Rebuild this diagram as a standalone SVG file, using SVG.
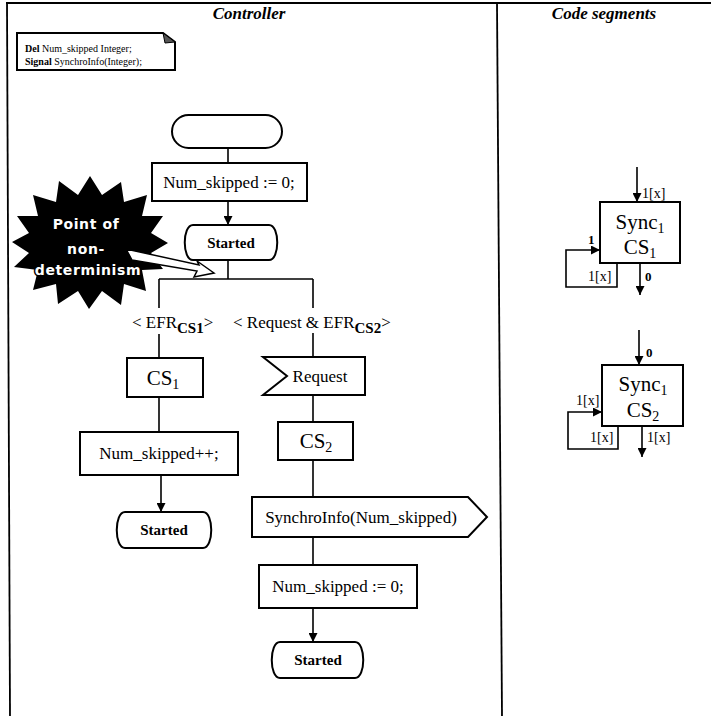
<svg xmlns="http://www.w3.org/2000/svg" width="711" height="716" viewBox="0 0 711 716">
  <style>
    .box { fill: #fff; stroke: #000; stroke-width: 2; }
    .ln { fill: none; stroke: #000; stroke-width: 1.6; }
    .frame { fill: none; stroke: #000; stroke-width: 1.8; }
    .t { font-family: "Liberation Serif", "Times New Roman", serif; fill: #000; }
    .mid { text-anchor: middle; }
    .hdr { font-size: 17px; font-weight: bold; font-style: italic; }
    .body { font-size: 17px; }
    .state { font-size: 15px; font-weight: bold; }
    .cs { font-size: 21px; }
    .sub { font-size: 14px; }
    .lbl { font-size: 14px; }
    .num { font-size: 13px; font-weight: bold; }
    .note { font-size: 10px; }
    .burst { font-family: "DejaVu Sans", "Liberation Sans", sans-serif; font-size: 14px; font-weight: bold; fill: #fff; stroke: #000; stroke-width: 3; paint-order: stroke; text-anchor: middle; letter-spacing: 0.6px; }
  </style>
  <defs>
    <marker id="ah" viewBox="0 0 10 10" refX="10" refY="5" markerWidth="9" markerHeight="9" markerUnits="userSpaceOnUse" orient="auto">
      <path d="M0,0 L10,5 L0,10 Z" fill="#000"/>
    </marker>
  </defs>

  <rect width="711" height="716" fill="#fff"/>

  <!-- table frame -->
  <g id="frame">
    <line class="frame" x1="6" y1="3" x2="711" y2="3"/>
    <line class="frame" x1="7" y1="3" x2="10" y2="716"/>
    <line class="frame" x1="497" y1="3" x2="502" y2="716"/>
    <text class="t hdr mid" x="249" y="19">Controller</text>
    <text class="t hdr mid" x="604" y="19">Code segments</text>
  </g>

  <!-- declarations -->
  <g id="decl">
    <path class="box" d="M17,33 H163 L175,42 V70 H17 Z" stroke-width="1.8"/>
    <path d="M163,33 L165,43 L175,42 Z" fill="#555" stroke="#000" stroke-width="1"/>
    <text class="t note" x="25" y="52"><tspan font-weight="bold">Del</tspan> Num_skipped Integer;</text>
    <text class="t note" x="25" y="65"><tspan font-weight="bold">Signal</tspan>  SynchroInfo(Integer);</text>
  </g>

  <!-- connectors -->
  <g id="connectors">
    <line class="ln" x1="228" y1="148" x2="228" y2="163"/>
    <line class="ln" x1="228" y1="201" x2="228" y2="225" marker-end="url(#ah)"/>
    <line class="ln" x1="228" y1="260" x2="228" y2="279"/>
    <line class="ln" x1="159" y1="279" x2="313" y2="279"/>
    <line class="ln" x1="159" y1="279" x2="159" y2="308"/>
    <line class="ln" x1="159" y1="334" x2="159" y2="358"/>
    <line class="ln" x1="159" y1="397" x2="159" y2="432"/>
    <line class="ln" x1="161" y1="475" x2="161" y2="512" marker-end="url(#ah)"/>
    <line class="ln" x1="313" y1="279" x2="313" y2="308"/>
    <line class="ln" x1="313" y1="333" x2="313" y2="357"/>
    <line class="ln" x1="313" y1="395" x2="313" y2="422"/>
    <line class="ln" x1="313" y1="460" x2="313" y2="497"/>
    <line class="ln" x1="313" y1="537" x2="313" y2="565"/>
    <line class="ln" x1="313" y1="608" x2="313" y2="642" marker-end="url(#ah)"/>
  </g>

  <!-- controller process -->
  <g id="start">
    <rect class="box" x="172" y="115" width="110" height="33" rx="16.5"/>
  </g>
  <g id="init">
    <rect class="box" x="152" y="163" width="155" height="38"/>
    <text class="t body mid" x="229" y="188">Num_skipped := 0;</text>
  </g>
  <g id="started1">
    <path class="box" d="M193,225 H269 C280,225 280,260 269,260 H193 C182,260 182,225 193,225 Z"/>
    <text class="t state mid" x="231" y="248">Started</text>
  </g>
  <g id="guard1">
    <text class="t body" x="132" y="328">&lt; EFR<tspan font-size="15" font-weight="bold" dy="5">CS1</tspan><tspan dy="-5">&gt;</tspan></text>
  </g>
  <g id="guard2">
    <text class="t body" x="233" y="328">&lt; Request &amp; EFR<tspan font-size="15" font-weight="bold" dy="5">CS2</tspan><tspan dy="-5">&gt;</tspan></text>
  </g>
  <g id="cs1">
    <rect class="box" x="127" y="358" width="76" height="39"/>
    <text class="t cs mid" x="163" y="385">CS<tspan class="sub" dy="4">1</tspan></text>
  </g>
  <g id="skip">
    <rect class="box" x="80" y="432" width="158" height="43"/>
    <text class="t body mid" x="159" y="459">Num_skipped++;</text>
  </g>
  <g id="started2">
    <path class="box" d="M125,512 H203 C214,512 214,548 203,548 H125 C114,548 114,512 125,512 Z"/>
    <text class="t state mid" x="164" y="535">Started</text>
  </g>
  <g id="request">
    <path class="box" d="M263,357 H365 V395 H263 L287,376 Z"/>
    <text class="t body mid" x="320" y="382">Request</text>
  </g>
  <g id="cs2">
    <rect class="box" x="278" y="422" width="75" height="38"/>
    <text class="t cs mid" x="316" y="448">CS<tspan class="sub" dy="4">2</tspan></text>
  </g>
  <g id="synchro">
    <path class="box" d="M252,497 H468 L487,517 L468,537 H252 Z"/>
    <text class="t body mid" x="361" y="523">SynchroInfo(Num_skipped)</text>
  </g>
  <g id="reset">
    <rect class="box" x="259" y="565" width="158" height="43"/>
    <text class="t body mid" x="338" y="592">Num_skipped := 0;</text>
  </g>
  <g id="started3">
    <path class="box" d="M280,642 H355 C366,642 366,678 355,678 H280 C269,678 269,642 280,642 Z"/>
    <text class="t state mid" x="318" y="665">Started</text>
  </g>

  <!-- callout -->
  <g id="callout">
    <polygon fill="#000" points="168,243 151,253 163,269 142,270 146,291 124,284 121,305 102,291 89,309 78,291 58,304 56,284 33,290 38,270 14,267 29,253 12,242 29,233 17,216 38,216 33,195 56,202 59,181 78,195 90,176 102,195 121,182 124,202 147,195 142,216 163,216 151,233"/>
    <polygon fill="#fff" stroke="#000" stroke-width="1.5" stroke-linejoin="miter" points="126,249 199,265 197,261 214,273 194,277 197,271 132,260"/>
    <text class="burst" x="86" y="229">Point of</text>
    <text class="burst" x="86" y="254">non-</text>
    <text class="burst" x="88" y="275">determinism</text>
  </g>

  <!-- code segment 1 -->
  <g id="sync-cs1">
    <rect class="box" x="600" y="202" width="80" height="61"/>
    <text class="t cs mid" x="640" y="229">Sync<tspan class="sub" dy="4">1</tspan></text>
    <text class="t cs mid" x="640" y="254">CS<tspan class="sub" dy="4">1</tspan></text>
    <line class="ln" x1="637" y1="167" x2="637" y2="202" marker-end="url(#ah)"/>
    <polyline class="ln" points="617,263 617,287 566,287 566,250 600,250" marker-end="url(#ah)"/>
    <line class="ln" x1="640" y1="263" x2="640" y2="295" marker-end="url(#ah)"/>
    <text class="t lbl" x="642" y="198">1[x]</text>
    <text class="t num" x="588" y="244">1</text>
    <text class="t lbl" x="588" y="281">1[x]</text>
    <text class="t num" x="645" y="281">0</text>
  </g>

  <!-- code segment 2 -->
  <g id="sync-cs2">
    <rect class="box" x="602" y="365" width="81" height="61"/>
    <text class="t cs mid" x="643" y="391">Sync<tspan class="sub" dy="4">1</tspan></text>
    <text class="t cs mid" x="643" y="417">CS<tspan class="sub" dy="4">2</tspan></text>
    <line class="ln" x1="639" y1="330" x2="639" y2="365" marker-end="url(#ah)"/>
    <polyline class="ln" points="618,426 618,449 568,449 568,412 602,412" marker-end="url(#ah)"/>
    <line class="ln" x1="642" y1="426" x2="642" y2="457" marker-end="url(#ah)"/>
    <text class="t num" x="646" y="357">0</text>
    <text class="t lbl" x="576" y="405">1[x]</text>
    <text class="t lbl" x="590" y="442">1[x]</text>
    <text class="t lbl" x="647" y="442">1[x]</text>
  </g>
</svg>
